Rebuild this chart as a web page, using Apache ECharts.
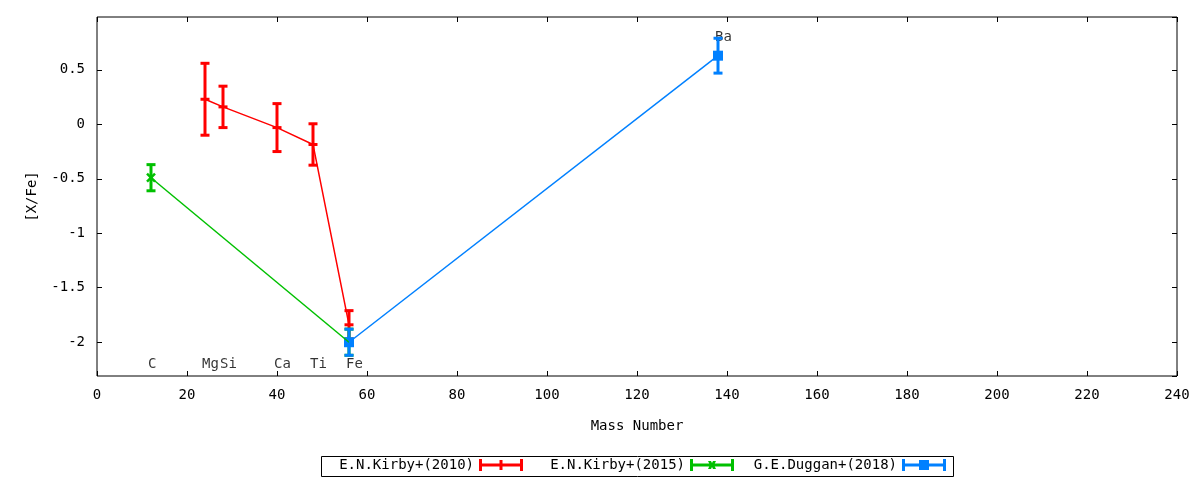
<!DOCTYPE html>
<html>
<head>
<meta charset="utf-8">
<script src="https://cdn.jsdelivr.net/npm/echarts@6/dist/echarts.min.js"></script>
<style>
  html, body { margin: 0; padding: 0; background: #fff; }
  #chart { width: 1200px; height: 480px; }
</style>
</head>
<body>
<div id="chart"></div>
<script>
// E.N.Kirby+(2010)
const kirby2010Mass = [24, 28, 40, 48, 56];
const kirby2010XFe = [0.23, 0.16, -0.03, -0.185, -1.84];
const kirby2010Err = [0.33, 0.19, 0.22, 0.19, 0.13];
// E.N.Kirby+(2015)
const kirby2015Mass = [12, 56];
const kirby2015XFe = [-0.49, -2.0];
const kirby2015Err = [0.12, 0.12];
// G.E.Duggan+(2018)
const duggan2018Mass = [56, 138];
const duggan2018XFe = [-2.0, 0.63];
const duggan2018Err = [0.12, 0.16];

// element labels
const elementNames = ['C', 'Mg', 'Si', 'Ca', 'Ti', 'Fe', 'Ba'];
const elementMass = [12, 24, 28, 40, 48, 56, 138];
const elementLabelY = [-2.2, -2.2, -2.2, -2.2, -2.2, -2.2, 0.8];

const seriesNames = ['E.N.Kirby+(2010)', 'E.N.Kirby+(2015)', 'G.E.Duggan+(2018)'];
const colors = ['#ff0000', '#00c000', '#0080ff'];

const font = 'DejaVu Sans Mono';
const fontSize = 14;

function zip3(a, b, c) {
    return a.map((v, i) => [v, b[i], c[i]]);
}

// draws error bar + caps + marker for one point
function errorBarRender(marker, color) {
    return function (params, api) {
        const x = api.value(0), y = api.value(1), e = api.value(2);
        const p = api.coord([x, y]);
        const top = api.coord([x, y + e]);
        const bot = api.coord([x, y - e]);
        const capW = 9, capH = 3;
        const children = [
            { type: 'line', shape: { x1: p[0], y1: top[1], x2: p[0], y2: bot[1] },
              style: { stroke: color, lineWidth: 3 } },
            { type: 'rect', shape: { x: p[0] - capW / 2, y: top[1] - capH / 2, width: capW, height: capH },
              style: { fill: color } },
            { type: 'rect', shape: { x: p[0] - capW / 2, y: bot[1] - capH / 2, width: capW, height: capH },
              style: { fill: color } }
        ];
        if (marker === 'bar') {
            children.push({ type: 'rect', shape: { x: p[0] - capW / 2, y: p[1] - capH / 2, width: capW, height: capH },
                style: { fill: color } });
        } else if (marker === 'cross') {
            children.push({ type: 'line', shape: { x1: p[0] - 4, y1: p[1] - 4, x2: p[0] + 4, y2: p[1] + 4 },
                style: { stroke: color, lineWidth: 2.5 } });
            children.push({ type: 'line', shape: { x1: p[0] - 4, y1: p[1] + 4, x2: p[0] + 4, y2: p[1] - 4 },
                style: { stroke: color, lineWidth: 2.5 } });
        } else {
            children.push({ type: 'rect', shape: { x: p[0] - 5, y: p[1] - 5, width: 10, height: 10 },
                style: { fill: color } });
        }
        return { type: 'group', children: children };
    };
}

// legend samples: line with caps, center marker
const iconBase = 'M0,0H3V12H0Z M3,4.5H41V7.5H3Z M41,0H44V12H41Z ';
const legendIcons = [
    'path://' + iconBase + 'M20.5,1H23.5V11H20.5Z',
    'path://' + iconBase + 'M18,2H21L22,4L23,2H26L24,6L26,10H23L22,8L21,10H18L20,6Z',
    'path://' + iconBase + 'M17,1H27V11H17Z'
];
// right edge of each legend sample (gnuplot key columns)
const legendRight = [677, 466, 254];

const chart = echarts.init(document.getElementById('chart'));

const lineSeries = (i, mass, vals) => ({
    name: seriesNames[i],
    type: 'line',
    data: mass.map((m, k) => [m, vals[k]]),
    showSymbol: false,
    symbol: 'none',
    lineStyle: { color: colors[i], width: 1.5 },
    itemStyle: { color: colors[i] },
    silent: true,
    z: 3
});

const barSeries = (i, mass, vals, err, marker) => ({
    name: seriesNames[i],
    type: 'custom',
    data: zip3(mass, vals, err),
    renderItem: errorBarRender(marker, colors[i]),
    itemStyle: { color: colors[i] },
    encode: { x: 0, y: 1 },
    silent: true,
    z: 3
});

const tick = { show: true, inside: true, length: 5, lineStyle: { color: '#000' } };

const option = {
    animation: false,
    backgroundColor: '#fff',
    grid: {
        left: 97, right: 23, top: 17, bottom: 104,
        show: true, borderColor: '#000', borderWidth: 1
    },
    // key box
    graphic: [{
        type: 'rect',
        left: 319, top: 454,
        shape: { width: 632, height: 20 },
        style: { fill: 'none', stroke: '#000', lineWidth: 1 },
        silent: true
    }],
    legend: seriesNames.map((n, i) => ({
        right: legendRight[i],
        top: 458,
        orient: 'horizontal',
        align: 'right',
        itemWidth: 44,
        itemHeight: 12,
        padding: 0,
        selectedMode: false,
        textStyle: { fontFamily: font, fontSize: fontSize, color: '#000' },
        data: [{ name: n, icon: legendIcons[i] }]
    })),
    xAxis: [{
        type: 'value',
        min: 0, max: 240, interval: 20,
        name: 'Mass Number',
        nameLocation: 'middle',
        nameGap: 43,
        nameTextStyle: { fontFamily: font, fontSize: fontSize, color: '#000' },
        axisLine: { show: false, onZero: false },
        axisTick: tick,
        axisLabel: { fontFamily: font, fontSize: fontSize, color: '#000', margin: 12 },
        splitLine: { show: false }
    }, {
        type: 'value',
        position: 'top',
        min: 0, max: 240, interval: 20,
        axisLine: { show: false, onZero: false },
        axisTick: tick,
        axisLabel: { show: false },
        splitLine: { show: false }
    }],
    yAxis: [{
        type: 'value',
        min: -2.31, max: 0.985,
        splitNumber: 6,
        name: '[X/Fe]',
        nameLocation: 'middle',
        nameRotate: 90,
        nameGap: 58,
        nameTextStyle: { fontFamily: font, fontSize: fontSize, color: '#000' },
        axisLine: { show: false, onZero: false },
        axisTick: tick,
        axisLabel: {
            fontFamily: font, fontSize: fontSize, color: '#000', margin: 12,
            showMinLabel: false, showMaxLabel: false
        },
        splitLine: { show: false }
    }, {
        type: 'value',
        position: 'right',
        min: -2.31, max: 0.985,
        splitNumber: 6,
        axisLine: { show: false, onZero: false },
        axisTick: tick,
        axisLabel: { show: false },
        splitLine: { show: false }
    }],
    series: [
        {
            name: 'elements',
            type: 'scatter',
            data: elementMass.map((m, i) => ({ value: [m, elementLabelY[i]], name: elementNames[i] })),
            symbolSize: 0,
            silent: true,
            z: 1,
            label: {
                show: true,
                position: [-3, 0],
                align: 'left',
                verticalAlign: 'middle',
                formatter: p => p.name,
                fontFamily: font, fontSize: fontSize, color: '#000'
            }
        },
        lineSeries(0, kirby2010Mass, kirby2010XFe),
        barSeries(0, kirby2010Mass, kirby2010XFe, kirby2010Err, 'bar'),
        lineSeries(1, kirby2015Mass, kirby2015XFe),
        barSeries(1, kirby2015Mass, kirby2015XFe, kirby2015Err, 'cross'),
        lineSeries(2, duggan2018Mass, duggan2018XFe),
        barSeries(2, duggan2018Mass, duggan2018XFe, duggan2018Err, 'square')
    ]
};

chart.setOption(option);
</script>
</body>
</html>
